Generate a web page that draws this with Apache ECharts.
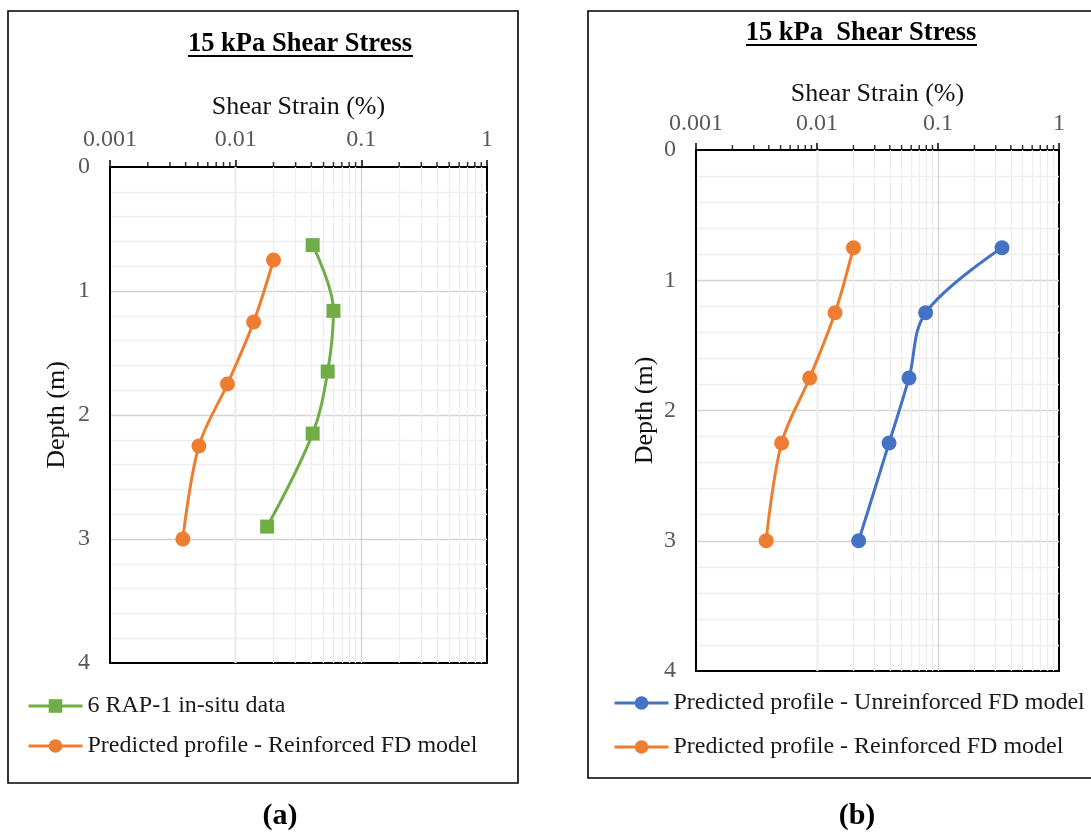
<!DOCTYPE html>
<html>
<head>
<meta charset="utf-8">
<script src="https://cdn.jsdelivr.net/npm/echarts@6/dist/echarts.min.js"></script>
<style>
  html, body { margin: 0; padding: 0; background: #fff; }
  #chart { width: 1091px; height: 833px; }
</style>
</head>
<body>
<div id="chart"></div>
<script>
// Shear strain (%) vs depth (m) profiles under 15 kPa shear stress

// Panel (a)
const depthInSitu   = [0.63, 1.16, 1.65, 2.15, 2.90];
const strainInSitu  = [0.041, 0.060, 0.054, 0.041, 0.0178];
const depthReinfA   = [0.75, 1.25, 1.75, 2.25, 3.0];
const strainReinfA  = [0.020, 0.0139, 0.0086, 0.0051, 0.0038];

// Panel (b)
const depthUnreinf  = [0.75, 1.25, 1.75, 2.25, 3.0];
const strainUnreinf = [0.338, 0.079, 0.0576, 0.0394, 0.0221];
const depthReinfB   = [0.75, 1.25, 1.75, 2.25, 3.0];
const strainReinfB  = [0.020, 0.0141, 0.0087, 0.0051, 0.0038];

// Axis tick labels and minor log ticks (2..9 within each decade)
const strainTickLabels = ['0.001', '0.01', '0.1', '1'];
const depthTickLabels = ['0', '1', '2', '3', '4'];
const minorStrains = [
  0.002, 0.003, 0.004, 0.005, 0.006, 0.007, 0.008, 0.009,
  0.02, 0.03, 0.04, 0.05, 0.06, 0.07, 0.08, 0.09,
  0.2, 0.3, 0.4, 0.5, 0.6, 0.7, 0.8, 0.9
];

const nameInSitu = '6 RAP-1 in-situ data';
const nameReinf = 'Predicted profile - Reinforced FD model';
const nameUnreinf = 'Predicted profile - Unreinforced FD model';

const FONT = "'Liberation Serif', 'Times New Roman', serif";
const GREEN = '#70AD47', ORANGE = '#ED7D31', BLUE = '#4472C4';

function pairs(xs, ys) { return xs.map((x, i) => [x, ys[i]]); }

function xAxisFor(gridIndex, labelMargin, nameGap) {
  return {
    gridIndex, type: 'log', logBase: 10, min: 0.001, max: 1, splitNumber: 3,
    position: 'top',
    name: 'Shear Strain (%)', nameLocation: 'middle', nameGap,
    nameTextStyle: { fontFamily: FONT, fontSize: 26, color: '#111' },
    axisLine: { show: true, lineStyle: { color: '#000', width: 2 } },
    axisTick: { show: true, inside: false, length: 7, lineStyle: { color: '#000', width: 1.5 } },
    axisLabel: {
      fontFamily: FONT, fontSize: 24, color: '#595959', margin: labelMargin,
      formatter: v => strainTickLabels[Math.round(Math.log10(v)) + 3]
    },
    splitLine: { show: true, showMinLine: false, showMaxLine: false, lineStyle: { color: '#d4d4d4', width: 1.3 } }
  };
}

function yAxisFor(gridIndex, nameGap) {
  return {
    gridIndex, type: 'value', inverse: true, min: 0, max: 4, interval: 1,
    name: 'Depth (m)', nameLocation: 'middle', nameGap,
    nameTextStyle: { fontFamily: FONT, fontSize: 26, color: '#111' },
    axisLine: { show: true, lineStyle: { color: '#000', width: 2 } },
    axisTick: { show: false },
    minorTick: { show: false, splitNumber: 5 },
    axisLabel: {
      fontFamily: FONT, fontSize: 24, color: '#595959', margin: 20,
      formatter: v => depthTickLabels[Math.round(v)]
    },
    splitLine: { show: true, showMinLine: false, showMaxLine: false, lineStyle: { color: '#d4d4d4', width: 1.3 } },
    minorSplitLine: { show: true, lineStyle: { color: '#eeeeee', width: 1.3 } }
  };
}

// Minor log ticks on the top axis and the minor vertical gridlines
function minorSeries(axisIndex) {
  return {
    type: 'scatter', xAxisIndex: axisIndex, yAxisIndex: axisIndex,
    data: minorStrains.map(v => [v, 0]),
    symbol: 'rect', symbolSize: [1.5, 5], symbolOffset: [0, -2.5],
    itemStyle: { color: '#000' }, clip: false, silent: true, z: 3,
    tooltip: { show: false },
    markLine: {
      silent: true, symbol: 'none', z: 1,
      label: { show: false },
      lineStyle: { color: '#eeeeee', width: 1.3, type: 'solid' },
      data: minorStrains.map(v => ({ xAxis: v }))
    }
  };
}

function profile(name, axisIndex, xs, ys, color, symbol, size) {
  return {
    name, type: 'line', xAxisIndex: axisIndex, yAxisIndex: axisIndex,
    data: pairs(xs, ys), smooth: 0.35,
    symbol, symbolSize: size, showSymbol: true,
    lineStyle: { color, width: 3 },
    itemStyle: { color },
    z: 10
  };
}

const legendBase = {
  orient: 'vertical', padding: 0, itemWidth: 54, itemHeight: 17,
  lineStyle: { width: 3 },
  textStyle: { fontFamily: FONT, fontSize: 24, color: '#1a1a1a' },
  selectedMode: false
};

const chart = echarts.init(document.getElementById('chart'), null, { renderer: 'canvas' });

chart.setOption({
  animation: false,
  backgroundColor: '#fff',
  grid: [
    { left: 110, top: 167, width: 377, height: 496, show: true, borderColor: '#000', borderWidth: 2, backgroundColor: 'transparent' },
    { left: 696, top: 150, width: 363, height: 521, show: true, borderColor: '#000', borderWidth: 2, backgroundColor: 'transparent' }
  ],
  xAxis: [xAxisFor(0, 15, 47), xAxisFor(1, 14, 38)],
  yAxis: [yAxisFor(0, 40), yAxisFor(1, 38)],
  legend: [
    Object.assign({}, legendBase, { left: 27, top: 694, itemGap: 16, data: [nameInSitu, nameReinf] }),
    Object.assign({}, legendBase, { left: 613, top: 691, itemGap: 20, data: [nameUnreinf, nameReinf] })
  ],
  series: [
    minorSeries(0),
    minorSeries(1),
    profile(nameInSitu, 0, strainInSitu, depthInSitu, GREEN, 'rect', 14),
    profile(nameReinf, 0, strainReinfA, depthReinfA, ORANGE, 'circle', 15),
    profile(nameUnreinf, 1, strainUnreinf, depthUnreinf, BLUE, 'circle', 15),
    profile(nameReinf, 1, strainReinfB, depthReinfB, ORANGE, 'circle', 15)
  ],
  graphic: [
    // panel frames
    { type: 'rect', shape: { x: 8, y: 11, width: 510, height: 772 }, style: { fill: null, stroke: '#000', lineWidth: 1.6 }, silent: true, z: 0 },
    { type: 'rect', shape: { x: 588, y: 11, width: 520, height: 767 }, style: { fill: null, stroke: '#000', lineWidth: 1.6 }, silent: true, z: 0 },
    // panel titles with underline
    { type: 'text', x: 300, y: 44, style: { text: '15 kPa Shear Stress', font: 'bold 26.5px ' + FONT, fill: '#000', textAlign: 'center', textVerticalAlign: 'middle' }, z: 20 },
    { type: 'line', shape: { x1: 188, y1: 56, x2: 413, y2: 56 }, style: { stroke: '#000', lineWidth: 2 }, z: 20 },
    { type: 'text', x: 861, y: 33, style: { text: '15 kPa  Shear Stress', font: 'bold 26.5px ' + FONT, fill: '#000', textAlign: 'center', textVerticalAlign: 'middle' }, z: 20 },
    { type: 'line', shape: { x1: 746, y1: 45, x2: 977, y2: 45 }, style: { stroke: '#000', lineWidth: 2 }, z: 20 },
    // panel captions
    { type: 'text', x: 280, y: 816, style: { text: '(a)', font: 'bold 30px ' + FONT, fill: '#000', textAlign: 'center', textVerticalAlign: 'middle' }, z: 20 },
    { type: 'text', x: 857, y: 816, style: { text: '(b)', font: 'bold 30px ' + FONT, fill: '#000', textAlign: 'center', textVerticalAlign: 'middle' }, z: 20 }
  ]
});
</script>
</body>
</html>
